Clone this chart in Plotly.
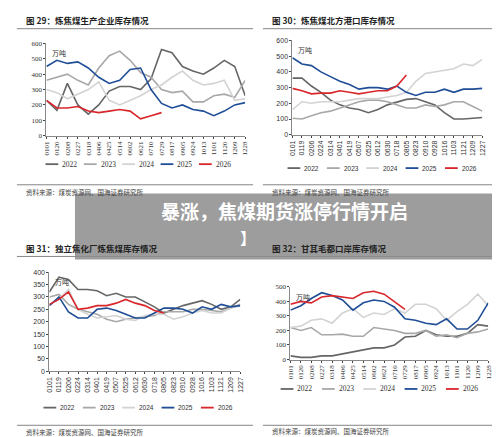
import plotly.graph_objects as go

years = ["2022", "2023", "2024", "2025", "2026"]
colors = ["#666666", "#a8a8a8", "#d3d3d3", "#1f4e96", "#d9262b"]

ticks_a = ["0101", "0120", "0208", "0227", "0318", "0406", "0425", "0514", "0602", "0621",
           "0710", "0729", "0817", "0905", "0924", "1013", "1101", "1120", "1209", "1228"]
ticks_b = ["0101", "0119", "0206", "0224", "0314", "0401", "0419", "0507", "0525", "0612",
           "0630", "0718", "0805", "0823", "0910", "0928", "1016", "1103", "1121", "1209", "1227"]

# 图29 炼焦煤生产企业库存
c29 = [
    [230, 165, 340, 200, 140, 200, 290, 320, 320, 300, 370, 560, 540, 450, 420, 400, 440, 490, 450, 260],
    [360, 380, 400, 360, 330, 440, 520, 550, 490, 410, 380, 300, 280, 290, 220, 220, 260, 270, 250, 360],
    [300, 280, 240, 270, 300, 350, 230, 200, 230, 260, 300, 330, 380, 420, 360, 330, 340, 360, 230, 240],
    [450, 490, 470, 480, 440, 380, 340, 360, 430, 440, 300, 210, 180, 200, 170, 160, 130, 160, 200, 215],
    [230, 180, 180, 190, 160, 150, 160, 170, 160, 110, 130, 150],
]
# 图30 炼焦煤北方港口库存
c30 = [
    [360, 360, 310, 270, 220, 190, 170, 160, 140, 160, 190, 210, 225, 230, 210, 190, 140, 100, 100, 105, 110],
    [105, 100, 120, 140, 150, 170, 190, 210, 220, 220, 210, 190, 170, 170, 190, 180, 190, 210, 210, 180, 150],
    [160, 210, 200, 210, 210, 210, 220, 230, 230, 230, 240, 250, 270, 340, 390, 400, 410, 420, 450, 440, 480],
    [490, 450, 440, 400, 370, 340, 320, 290, 300, 300, 290, 310, 270, 250, 270, 270, 290, 270, 290, 290, 295],
    [295, 280, 260, 265, 265, 280, 270, 260, 270, 280, 280, 310, 380],
]
# 图31 独立焦化厂炼焦煤库存
c31 = [
    [320, 380, 370, 330, 330, 325, 305, 315, 300, 300, 280, 260, 235, 250, 265, 275, 285, 270, 250, 260, 290],
    [300, 310, 270, 250, 240, 230, 210, 200, 210, 215, 220, 225, 240, 240, 240, 250, 250, 245, 240, 255, 270],
    [270, 290, 330, 250, 230, 215, 220, 225, 210, 205, 225, 230, 230, 210, 220, 235, 245, 235, 235, 255, 265],
    [265, 300, 240, 215, 215, 250, 255, 245, 230, 215, 215, 235, 255, 255, 250, 235, 260, 250, 270, 260, 265],
    [270, 290, 320, 250, 255, 265, 265, 275, 290, 275, 265, 245, 235],
]
# 图32 甘其毛都口岸库存
c32 = [
    [25, 15, 15, 25, 25, 40, 50, 65, 80, 80, 100, 155, 160, 200, 170, 160, 160, 180, 240, 230],
    [220, 200, 220, 170, 170, 175, 160, 160, 220, 210, 200, 180, 180, 200, 160, 170, 150, 180, 190, 210],
    [220, 230, 270, 280, 250, 320, 350, 290, 320, 310, 350, 320, 380, 380, 350, 270, 330, 380, 450, 370],
    [340, 370, 420, 460, 440, 410, 340, 390, 410, 400, 360, 280, 270, 250, 240, 280, 210, 210, 270, 390],
    [380, 400, 390, 430, 440, 430, 420, 460, 470, 450, 400, 345],
]

W, H = 500, 437
def px(x): return x / W
def py(y): return 1 - y / H

charts = [
    # data, ticks, ymax, dtick, x px range, y px range, legend (x px start, y px, step), serif
    (c29, ticks_a, 600, 100, (35, 237), (32, 126), (34, 155, 39), True),
    (c30, ticks_b, 600, 100, (285, 478), (29, 125), (280, 159, 40), False),
    (c31, ticks_b, 400, 50, (38, 232), (265, 366), (32, 403, 40), False),
    (c32, ticks_a, 500, 100, (283, 484), (280, 354), (273, 384, 42), True),
]

fig = go.Figure()
layout = dict(width=W, height=H, margin=dict(l=0, r=0, t=0, b=0),
              paper_bgcolor="white", plot_bgcolor="white", showlegend=False)
ann = []
shapes = []
for i, (data, ticks, ymax, dt, xr, yr, leg, serif) in enumerate(charts):
    n = i + 1
    sfx = "" if n == 1 else str(n)
    fam = "Liberation Serif" if serif else "Liberation Sans"
    for yi, (yr_name, col) in enumerate(zip(years, colors)):
        vals = data[yi]
        fig.add_trace(go.Scatter(x=list(range(len(vals))), y=vals, mode="lines", name=yr_name,
                                 line=dict(color=col, width=1.6), xaxis="x" + sfx, yaxis="y" + sfx))
        # legend item drawn by hand
        lx = leg[0] + yi * leg[2]
        shapes.append(dict(type="line", xref="paper", yref="paper", x0=px(lx), x1=px(lx + 13),
                           y0=py(leg[1]), y1=py(leg[1]), line=dict(color=col, width=1.8)))
        ann.append(dict(text=yr_name, x=px(lx + 15), y=py(leg[1]), xref="paper", yref="paper",
                        xanchor="left", yanchor="middle", showarrow=False,
                        font=dict(size=7.5 if serif else 6.5, family=fam, color="#333")))
    layout["xaxis" + sfx] = dict(domain=[px(xr[0]), px(xr[1])], anchor="y" + sfx,
                                 range=[0, len(ticks) - 1], tickvals=list(range(len(ticks))),
                                 ticktext=ticks, tickangle=-90, showgrid=False,
                                 showline=True, linecolor="#888", ticks="outside", ticklen=2,
                                 tickfont=dict(size=7, family=fam, color="#333"))
    layout["yaxis" + sfx] = dict(domain=[py(yr[1]), py(yr[0])], anchor="x" + sfx,
                                 range=[0, ymax], dtick=dt, showgrid=False,
                                 showline=True, linecolor="#888", ticks="outside", ticklen=2,
                                 tickfont=dict(size=7, family=fam, color="#333"))
    ann.append(dict(text="万吨", x=px(xr[0] + 4), y=py(yr[0] + 3), xref="paper", yref="paper",
                    xanchor="left", yanchor="top", showarrow=False,
                    font=dict(size=7, family="Noto Sans CJK SC", color="#333")))

titles = [("图 29：炼焦煤生产企业库存情况", 12, 8), ("图 30：炼焦煤北方港口库存情况", 262, 8),
          ("图 31：独立焦化厂炼焦煤库存情况", 12, 240), ("图 32：甘其毛都口岸库存情况", 262, 240)]
for t, x, y in titles:
    ann.append(dict(text="<b>" + t + "</b>", x=px(x), y=py(y), xref="paper", yref="paper",
                    xanchor="left", yanchor="middle", showarrow=False,
                    font=dict(size=8.5, family="Noto Sans CJK SC", color="#222")))
for x, y in [(12, 183), (262, 183), (12, 428), (262, 427)]:
    ann.append(dict(text="资料来源：煤炭资源网、国海证券研究所", x=px(x), y=py(y), xref="paper",
                    yref="paper", xanchor="left", yanchor="middle", showarrow=False,
                    font=dict(size=6.5, family="Noto Sans CJK SC", color="#444")))

for x0, x1, y in [(5, 245, 17), (255, 495, 17), (5, 245, 176), (255, 495, 176),
                  (5, 495, 249), (5, 245, 421), (255, 495, 421)]:
    shapes.append(dict(type="line", xref="paper", yref="paper", x0=px(x0), x1=px(x1),
                       y0=py(y), y1=py(y), line=dict(color="#666", width=0.8)))
shapes.append(dict(type="rect", xref="paper", yref="paper", x0=px(64), x1=px(492),
                   y0=py(252), y1=py(185), fillcolor="rgba(140,140,140,0.85)", line_width=0,
                   layer="above"))
ann.append(dict(text="<b>暴涨，焦煤期货涨停行情开启</b>", x=px(277), y=py(202), xref="paper",
                yref="paper", showarrow=False,
                font=dict(size=19, family="Noto Sans CJK SC", color="white")))
ann.append(dict(text="<b>】</b>", x=px(240), y=py(229), xref="paper", yref="paper",
                showarrow=False, font=dict(size=16, family="Noto Sans CJK SC", color="white")))

layout["annotations"] = ann
layout["shapes"] = shapes
fig.update_layout(**layout)
fig.write_html("out.html")
